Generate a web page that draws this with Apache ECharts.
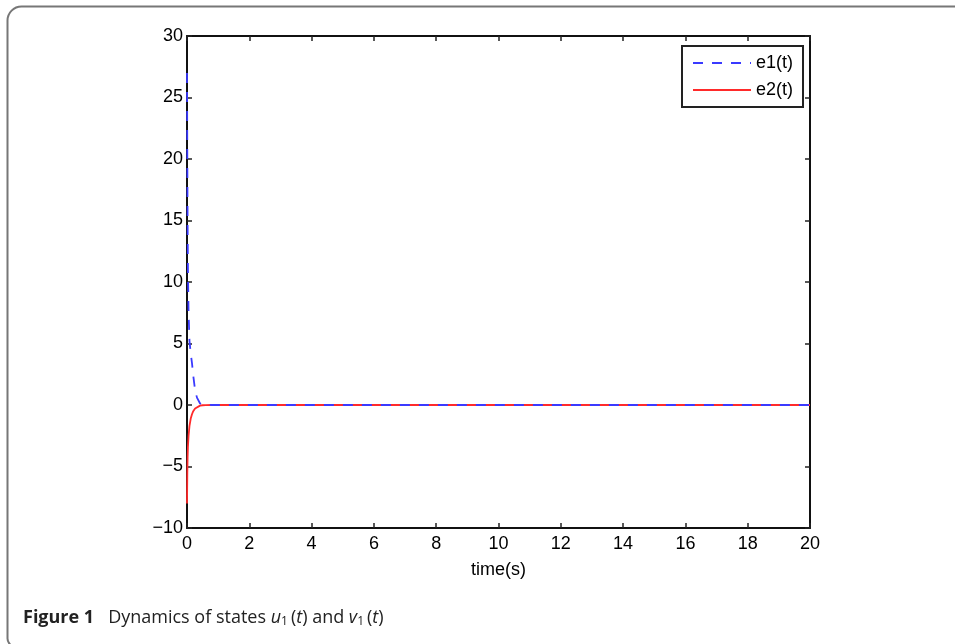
<!DOCTYPE html>
<html>
<head>
<meta charset="utf-8">
<script src="https://cdn.jsdelivr.net/npm/echarts@6/dist/echarts.min.js"></script>
<style>html,body{margin:0;padding:0;background:#fff}#c{width:955px;height:644px}</style>
</head>
<body>
<div id="c"></div>
<script>
const time = [0, 0.01, 0.02, 0.03, 0.05, 0.08, 0.12, 0.16, 0.2, 0.26, 0.32, 0.42, 0.5, 0.6, 0.8, 1, 2, 4, 6, 8, 10, 12, 14, 16, 18, 20];
const e1 = [27, 20, 14.5, 11, 7.5, 5.2, 4.2, 3.4, 2.4, 1.2, 0.6, 0.12, 0.03, 0.01, 0, 0, 0, 0, 0, 0, 0, 0, 0, 0, 0, 0];
const e2 = [-8, -5.5, -4.2, -3.4, -2.5, -1.7, -1.1, -0.75, -0.5, -0.28, -0.15, -0.05, -0.02, -0.01, 0, 0, 0, 0, 0, 0, 0, 0, 0, 0, 0, 0];
const xTicks = {min: 0, max: 20, interval: 2};
const yTicks = {min: -10, max: 30, interval: 5};

const pair = (ys) => time.map((t, i) => [t, ys[i]]);
const font = 'Liberation Sans, Arial, sans-serif';
const tickStyle = {show: true, inside: true, length: 5, lineStyle: {color: '#222', width: 1.5}};
const axLine = {show: true, onZero: false, lineStyle: {color: '#111', width: 2}};
const minus = (v) => String(v).replace('-', '\u2212');

const chart = echarts.init(document.getElementById('c'), null, {renderer: 'canvas'});
chart.setOption({
  animation: false,
  backgroundColor: '#fff',
  grid: {left: 187, right: 145, top: 36, bottom: 116, containLabel: false},
  legend: {
    orient: 'vertical', left: 682, top: 46,
    data: ['e1(t)', 'e2(t)'],
    borderColor: '#222', borderWidth: 2, backgroundColor: '#fff',
    padding: [8, 10, 8, 10], itemWidth: 58, itemHeight: 16, itemGap: 9,
    itemStyle: {opacity: 0},
    textStyle: {fontFamily: font, fontSize: 18, color: '#000'}
  },
  xAxis: [
    {type: 'value', min: xTicks.min, max: xTicks.max, interval: xTicks.interval,
     name: 'time(s)', nameLocation: 'middle', nameGap: 33,
     nameTextStyle: {fontFamily: font, fontSize: 18, color: '#000'},
     axisLine: axLine, axisTick: tickStyle, splitLine: {show: false},
     axisLabel: {fontFamily: font, fontSize: 18, color: '#000', margin: 7, formatter: minus}},
    {type: 'value', position: 'top', min: xTicks.min, max: xTicks.max, interval: xTicks.interval,
     axisLine: axLine, axisTick: tickStyle, splitLine: {show: false}, axisLabel: {show: false}}
  ],
  yAxis: [
    {type: 'value', min: yTicks.min, max: yTicks.max, interval: yTicks.interval,
     axisLine: axLine, axisTick: tickStyle, splitLine: {show: false},
     axisLabel: {fontFamily: font, fontSize: 18, color: '#000', margin: 4, formatter: minus}},
    {type: 'value', position: 'right', min: yTicks.min, max: yTicks.max, interval: yTicks.interval,
     axisLine: axLine, axisTick: tickStyle, splitLine: {show: false}, axisLabel: {show: false}}
  ],
  series: [
    {name: 'e2(t)', type: 'line', data: pair(e2), symbol: 'none', z: 2,
     lineStyle: {color: '#ff2a2a', width: 1.8}, itemStyle: {color: '#ff2a2a'}},
    {name: 'e1(t)', type: 'line', data: pair(e1), symbol: 'none', z: 3,
     lineStyle: {color: '#3a3aff', width: 1.8, type: [10, 9]}, itemStyle: {color: '#3a3aff'}}
  ],
  graphic: [
    {type: 'rect', silent: true, z: -1,
     shape: {x: 7.5, y: 6.5, width: 1000, height: 640, r: [14, 0, 0, 8]},
     style: {fill: 'none', stroke: '#777', lineWidth: 2}},
    {type: 'text', left: 23, top: 609, silent: true,
     style: {
       text: '{b|Figure 1}{g|}{n|Dynamics of states }{i|u}{s|1}{n|(}{i|t}{n|) and }{i|v}{s|1}{n|(}{i|t}{n|)}',
       rich: {
         b: {fontFamily: 'Open Sans, sans-serif', fontSize: 18, fontWeight: 'bold', fill: '#222'},
         g: {width: 14, fontSize: 18},
         n: {fontFamily: 'Open Sans, sans-serif', fontSize: 18, fill: '#222'},
         i: {fontFamily: 'Open Sans, sans-serif', fontSize: 18, fontStyle: 'italic', fill: '#222'},
         s: {fontFamily: 'Open Sans, sans-serif', fontSize: 12, fill: '#222', verticalAlign: 'bottom', padding: [7, 3, 0, 0]}
       }
     }}
  ]
});
</script>
</body>
</html>
